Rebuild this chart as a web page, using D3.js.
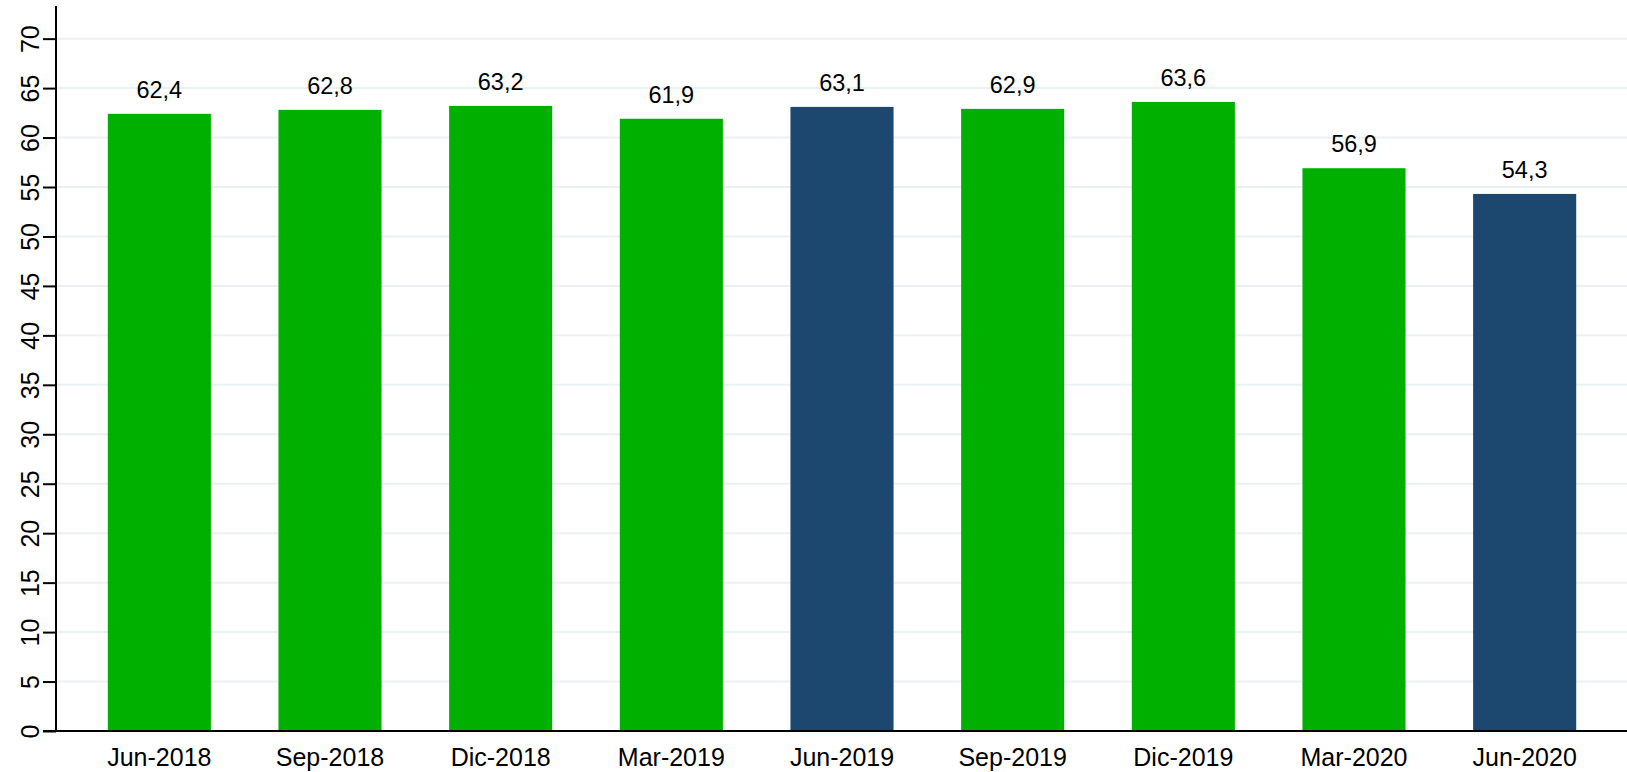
<!DOCTYPE html>
<html>
<head>
<meta charset="utf-8">
<script src="https://cdn.jsdelivr.net/npm/d3@7"></script>
<style>
  html, body { margin: 0; padding: 0; background: #fff; }
  svg { display: block; font-family: "Liberation Sans", Arial, sans-serif; }
</style>
</head>
<body>
<div class="chart"></div>
<script>
var periods = ["Jun-2018", "Sep-2018", "Dic-2018", "Mar-2019", "Jun-2019", "Sep-2019", "Dic-2019", "Mar-2020", "Jun-2020"];
var values = [62.4, 62.8, 63.2, 61.9, 63.1, 62.9, 63.6, 56.9, 54.3];
var highlighted = ["Jun-2019", "Jun-2020"];
var yTicks = d3.range(0, 75, 5);

var width = 1627;
var height = 772;
var axisX = 56;
var baseY = 731;

var svg = d3.select(".chart")
            .append("svg")
            .attr("width", width)
            .attr("height", height);

var x = d3.scaleBand()
          .domain(periods)
          .range([74, 1610])
          .paddingInner(0.396)
          .paddingOuter(0.198);

var y = d3.scaleLinear()
          .domain([0, 73.3])
          .range([baseY, 6]);

// grid
svg.append("g")
   .selectAll("line")
   .data(yTicks.filter(function(d) { return d > 0; }))
   .enter()
   .append("line")
   .attr("x1", axisX)
   .attr("x2", width)
   .attr("y1", function(d) { return y(d); })
   .attr("y2", function(d) { return y(d); })
   .attr("stroke", "#eaf1f3")
   .attr("stroke-width", 2);

// bars
svg.append("g")
   .selectAll("rect")
   .data(values)
   .enter()
   .append("rect")
   .attr("x", function(d, i) { return x(periods[i]); })
   .attr("width", x.bandwidth())
   .attr("y", function(d) { return y(d); })
   .attr("height", function(d) { return baseY - y(d); })
   .attr("fill", function(d, i) {
     return highlighted.indexOf(periods[i]) >= 0 ? "#1c476f" : "#00b000";
   });

// value labels
svg.append("g")
   .selectAll("text")
   .data(values)
   .enter()
   .append("text")
   .attr("x", function(d, i) { return x(periods[i]) + x.bandwidth() / 2; })
   .attr("y", function(d) { return y(d) - 16; })
   .attr("text-anchor", "middle")
   .attr("font-size", "23.5px")
   .attr("fill", "#000")
   .text(function(d) { return d.toFixed(1).replace(".", ","); });

// y axis
var yAxis = d3.axisLeft(y)
              .tickValues(yTicks)
              .tickSize(13)
              .tickFormat(d3.format("d"));

var gy = svg.append("g")
            .attr("transform", "translate(" + axisX + ",0)")
            .call(yAxis);
gy.select(".domain").remove();
gy.selectAll(".tick line").attr("stroke", "#000").attr("stroke-width", 2);
gy.selectAll(".tick text")
  .attr("font-size", "25px")
  .attr("font-family", "Liberation Sans, Arial, sans-serif")
  .attr("fill", "#000")
  .attr("x", null)
  .attr("dy", null)
  .attr("text-anchor", "middle")
  .attr("transform", "translate(-26,0) rotate(-90) translate(0,9)");

svg.append("line")
   .attr("x1", axisX).attr("x2", axisX)
   .attr("y1", 6).attr("y2", baseY)
   .attr("stroke", "#000")
   .attr("stroke-width", 2);

// x axis
svg.append("line")
   .attr("x1", axisX - 13).attr("x2", width)
   .attr("y1", baseY).attr("y2", baseY)
   .attr("stroke", "#000")
   .attr("stroke-width", 2);

var xAxis = d3.axisBottom(x).tickSize(0).tickPadding(0);
var gx = svg.append("g")
            .attr("transform", "translate(0," + baseY + ")")
            .call(xAxis);
gx.select(".domain").remove();
gx.selectAll(".tick text")
  .attr("font-size", "25px")
  .attr("font-family", "Liberation Sans, Arial, sans-serif")
  .attr("fill", "#000")
  .attr("y", 35)
  .attr("dy", null);
</script>
</body>
</html>
